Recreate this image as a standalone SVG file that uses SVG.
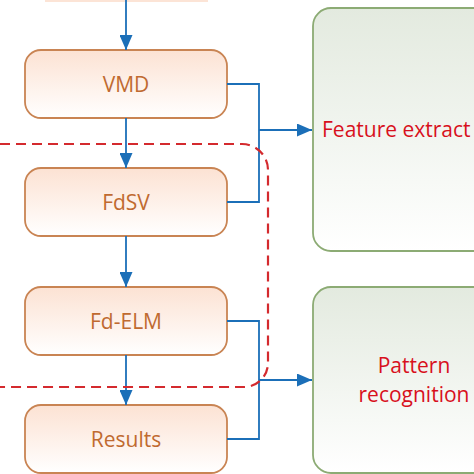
<svg xmlns="http://www.w3.org/2000/svg" width="474" height="474" viewBox="0 0 474 474">
<defs>
<linearGradient id="peach" x1="0" y1="0" x2="0" y2="1">
<stop offset="0" stop-color="#fce2d3"/>
<stop offset="1" stop-color="#ffffff"/>
</linearGradient>
<linearGradient id="green" x1="0" y1="0" x2="0" y2="1">
<stop offset="0" stop-color="#e3eadf"/>
<stop offset="1" stop-color="#ffffff"/>
</linearGradient>
<marker id="arr" viewBox="0 0 15 13" refX="15" refY="6.5" markerWidth="15" markerHeight="13" markerUnits="userSpaceOnUse" orient="auto">
<path d="M0,0 L15,6.5 L0,13 Z" fill="#1b6fb8"/>
</marker>
<style>
.box{fill:url(#peach);stroke:#c98453;stroke-width:1.8}
.gbox{fill:url(#green);stroke:#8cab74;stroke-width:1.8}
.lbl{font-family:"Open Sans","Noto Sans",sans-serif;font-size:21px;fill:#c06a30;text-anchor:middle}
.rlbl{font-family:"Open Sans","Noto Sans",sans-serif;font-size:21px;fill:#d8101c}
.con{fill:none;stroke:#1b6fb8;stroke-width:1.8}
.dash{fill:none;stroke:#d42a2e;stroke-width:2.2;stroke-dasharray:10 6}
</style>
</defs>
<rect width="474" height="474" fill="#ffffff"/>
<g id="top">
<rect x="45" y="-20" width="163" height="22" fill="#fce4d6"/>
</g>
<g id="vmd">
<rect class="box" x="25" y="50" width="202" height="68" rx="16"/>
<text class="lbl" x="126" y="92">VMD</text>
</g>
<g id="fdsv">
<rect class="box" x="25" y="168" width="202" height="68" rx="16"/>
<text class="lbl" x="126" y="210">FdSV</text>
</g>
<g id="fdelm">
<rect class="box" x="25" y="287" width="202" height="68" rx="16"/>
<text class="lbl" x="126" y="329">Fd-ELM</text>
</g>
<g id="results">
<rect class="box" x="25" y="405" width="202" height="68" rx="16"/>
<text class="lbl" x="126" y="447">Results</text>
</g>
<g id="feature">
<rect class="gbox" x="313" y="8" width="200" height="243" rx="18"/>
<text class="rlbl" x="322" y="137">Feature extract</text>
</g>
<g id="pattern">
<rect class="gbox" x="313" y="287" width="200" height="186" rx="18"/>
<text class="rlbl" x="414" y="373" text-anchor="middle">Pattern</text>
<text class="rlbl" x="414" y="402" text-anchor="middle">recognition</text>
</g>
<g id="connectors">
<path class="con" d="M126,0 V50" marker-end="url(#arr)"/>
<path class="con" d="M126,118 V168" marker-end="url(#arr)"/>
<path class="con" d="M126,236 V287" marker-end="url(#arr)"/>
<path class="con" d="M126,355 V405" marker-end="url(#arr)"/>
<path class="con" d="M227,84 H259 V202 H227"/>
<path class="con" d="M259,130 H312" marker-end="url(#arr)"/>
<path class="con" d="M227,321 H259 V439 H227"/>
<path class="con" d="M259,380 H312" marker-end="url(#arr)"/>
</g>
<g id="region">
<path class="dash" d="M0,144 H242 A26,26 0 0 1 268,170 V363 A24,24 0 0 1 244,387 H0"/>
</g>
</svg>
